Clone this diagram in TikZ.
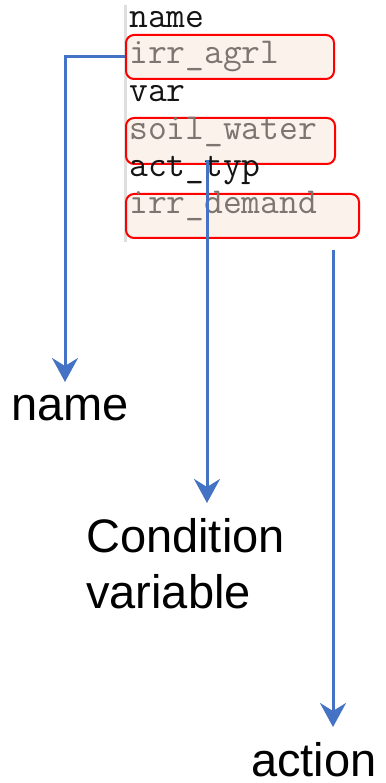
\documentclass[tikz,border=0pt]{standalone}
\usepackage{fontspec}
\setmainfont{Liberation Sans}
\usetikzlibrary{arrows.meta}
\definecolor{linkblue}{RGB}{68,114,196}
\definecolor{boxfill}{RGB}{252,242,236}
\definecolor{boxred}{RGB}{255,0,0}
\definecolor{keytext}{RGB}{20,20,20}
\definecolor{valtext}{RGB}{125,118,112}
\definecolor{bargray}{RGB}{222,222,222}
\tikzset{
  hl/.style={draw=boxred, fill=boxfill, line width=2pt, rounded corners=8pt,
    anchor=north west, inner sep=0pt},
  keyline/.style={anchor=base west, inner sep=0pt, text=keytext,
    font=\ttfamily\fontsize{36.5}{36.5}\selectfont},
  valline/.style={anchor=base west, inner sep=0pt, text=valtext,
    font=\ttfamily\fontsize{36.5}{36.5}\selectfont},
  caption/.style={anchor=base west, inner sep=0pt, align=left,
    font=\fontsize{47}{56}\selectfont},
  link/.style={draw=linkblue, line width=3pt,
    -{Stealth[length=24pt,width=26pt,inset=8pt]}}
}
\begin{document}
\begin{tikzpicture}[x=1pt,y=-1pt]
\useasboundingbox (0,0) rectangle (385,783);

% left margin rule of the code listing
\draw[bargray, line width=3pt] (125,5) -- (125,242);

% highlighted value fields
\node[hl, minimum width=208pt, minimum height=44pt] (b1) at (125,34) {};
\node[hl, minimum width=209pt, minimum height=46pt] (b2) at (125,117) {};
\node[hl, minimum width=233pt, minimum height=44pt] (b3) at (125,193) {};

% listing lines
\node[keyline] (k1) at (129,27.5)  {name};
\node[valline] (v1) at (129,64)    {irr\_agrl};
\node[keyline] (k2) at (129,102)   {var};
\node[valline] (v2) at (129,140)   {soil\_water};
\node[keyline] (k3) at (129,177)   {act\_typ};
\node[valline] (v3) at (129,214)   {irr\_demand};

% captions (a two-line caption sits on its last baseline)
\node[caption] (lname) at (11,420) {name};
\node[caption] (lcond) at (86,608) {Condition\\variable};
\node[caption] (lact)  at (251,776) {action};

% arrow ends
\coordinate (t1) at (65,382);
\coordinate (t2) at (207,503);
\coordinate (t3) at (333,727);

% connectors
\draw[link] (b1.west) -| (t1);
\draw[link, shorten <=-5pt] (b2.south -| t2) -- (t2);
\draw[link, shorten <=11pt] (b3.south -| t3) -- (t3);
\end{tikzpicture}
\end{document}
